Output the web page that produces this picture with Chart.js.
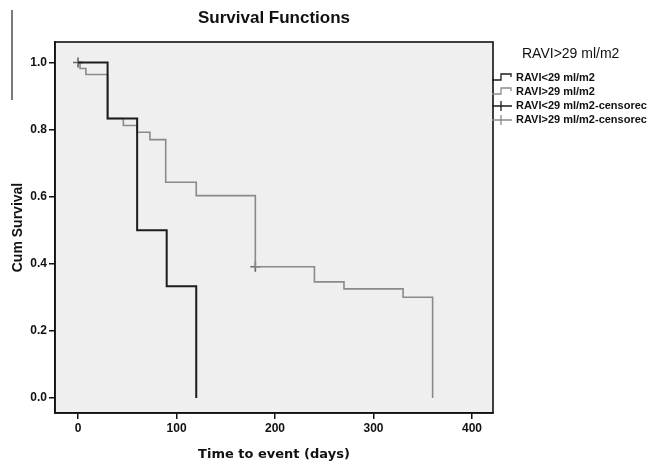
<!DOCTYPE html>
<html>
<head>
<meta charset="utf-8">
<script src="https://cdn.jsdelivr.net/npm/chart.js@4"></script>
<style>
  body { margin: 0; background: #fff; }
</style>
</head>
<body>
<canvas id="survival" width="650" height="461"></canvas>
<script>
// Kaplan-Meier steps
const timesLow = [0, 30, 60, 90, 120];
const survLow = [1.0, 0.833, 0.5, 0.333, 0];

const timesHigh = [0, 2, 8, 30, 46, 60, 73, 89, 120, 180, 240, 270, 330, 360];
const survHigh = [1.0, 0.982, 0.964, 0.833, 0.812, 0.792, 0.770, 0.643, 0.603, 0.391, 0.346, 0.325, 0.300, 0];

const censorHighTimes = [0, 180];
const censorHighSurv = [1.0, 0.391];

const xTicks = [0, 100, 200, 300, 400];
const yTicks = [0.0, 0.2, 0.4, 0.6, 0.8, 1.0];

const legendTitle = 'RAVI>29 ml/m2';
const legendItems = ['RAVI<29 ml/m2', 'RAVI>29 ml/m2', 'RAVI<29 ml/m2-censorec', 'RAVI>29 ml/m2-censorec'];

const BLACK = '#1c1c1c';
const GREY = '#8a8a8a';

function toPoints(xs, ys) {
  return xs.map((x, i) => ({ x: x, y: ys[i] }));
}

const framePlugin = {
  id: 'frame',
  beforeDraw(chart) {
    const { ctx, chartArea: a } = chart;
    ctx.save();
    ctx.fillStyle = '#efefef';
    ctx.fillRect(a.left, a.top, a.right - a.left, a.bottom - a.top);
    // scan edge line at the far left
    ctx.strokeStyle = '#222';
    ctx.lineWidth = 1.2;
    ctx.beginPath();
    ctx.moveTo(12, 10);
    ctx.lineTo(12, 100);
    ctx.stroke();
    ctx.restore();
  },
  afterDraw(chart) {
    const { ctx, chartArea: a } = chart;
    ctx.save();
    ctx.strokeStyle = '#111';
    ctx.lineWidth = 1.6;
    ctx.strokeRect(a.left, a.top, a.right - a.left, a.bottom - a.top);

    // legend on the right
    ctx.fillStyle = '#111';
    ctx.textBaseline = 'middle';
    ctx.font = '14px "Liberation Sans", Arial, sans-serif';
    ctx.fillText(legendTitle, 522, 54);
    ctx.font = 'bold 11px "Liberation Sans", Arial, sans-serif';
    const ys = [78, 92, 106, 120];
    legendItems.forEach((txt, i) => {
      const y = ys[i];
      const col = (i % 2 === 0) ? BLACK : GREY;
      ctx.strokeStyle = col;
      ctx.lineWidth = 1.3;
      ctx.beginPath();
      if (i < 2) {
        ctx.moveTo(492, y + 2);
        ctx.lineTo(501, y + 2);
        ctx.lineTo(501, y - 4);
        ctx.lineTo(511, y - 4);
        ctx.lineTo(511, y - 1);
      } else {
        ctx.moveTo(492, y);
        ctx.lineTo(512, y);
        ctx.moveTo(501, y - 5);
        ctx.lineTo(501, y + 5);
      }
      ctx.stroke();
      ctx.fillStyle = '#111';
      ctx.fillText(txt, 516, y);
    });
    ctx.restore();
  }
};

const tickFont = { family: '"Liberation Sans", Arial, sans-serif', size: 12, weight: 'bold' };

new Chart(document.getElementById('survival'), {
  type: 'line',
  data: {
    datasets: [{
      label: legendItems[0],
      data: toPoints(timesLow, survLow),
      borderColor: BLACK,
      borderWidth: 2,
      stepped: 'before',
      pointRadius: 0,
      fill: false
    }, {
      label: legendItems[1],
      data: toPoints(timesHigh, survHigh),
      borderColor: GREY,
      borderWidth: 1.6,
      stepped: 'before',
      pointRadius: 0,
      fill: false
    }, {
      label: legendItems[3],
      data: toPoints(censorHighTimes, censorHighSurv),
      showLine: false,
      pointStyle: 'cross',
      pointRadius: 5,
      borderColor: '#666',
      borderWidth: 1.6
    }]
  },
  options: {
    responsive: false,
    animation: false,
    devicePixelRatio: 1,
    layout: { padding: { left: 0, right: 157, top: 0, bottom: 0 } },
    plugins: {
      legend: { display: false },
      tooltip: { enabled: false },
      title: {
        display: true,
        fullSize: false,
        text: 'Survival Functions',
        color: '#111',
        font: { family: '"Liberation Sans", Arial, sans-serif', size: 17, weight: 'bold' },
        padding: { top: 8, bottom: 13.6 }
      }
    },
    scales: {
      x: {
        type: 'linear',
        min: -23.4,
        max: 421.3,
        afterFit(scale) { scale.height = 48; },
        afterBuildTicks(scale) { scale.ticks = xTicks.map(v => ({ value: v })); },
        ticks: { color: '#111', font: tickFont, padding: 2, maxRotation: 0,
                 callback: v => String(v) },
        grid: { drawOnChartArea: false, drawTicks: true, tickLength: 6, color: '#111', lineWidth: 1.5 },
        border: { display: true, color: '#111', width: 1.6 },
        title: {
          display: true,
          text: 'Time to event (days)',
          color: '#111',
          font: { family: '"DejaVu Sans", Verdana, sans-serif', size: 13, weight: 'bold', lineHeight: 1 },
          padding: { top: 0, bottom: 0 }
        }
      },
      y: {
        type: 'linear',
        min: -0.045,
        max: 1.061,
        afterFit(scale) { scale.width = 55; },
        afterBuildTicks(scale) { scale.ticks = yTicks.map(v => ({ value: v })); },
        ticks: { color: '#111', font: tickFont, padding: 2,
                 callback: v => v.toFixed(1) },
        grid: { drawOnChartArea: false, drawTicks: true, tickLength: 6, color: '#111', lineWidth: 1.5 },
        border: { display: true, color: '#111', width: 1.6 },
        title: {
          display: true,
          text: 'Cum Survival',
          color: '#111',
          font: { family: '"Liberation Sans", Arial, sans-serif', size: 14, weight: 'bold', lineHeight: 1.2 },
          padding: { top: 10, bottom: 0 }
        }
      }
    }
  },
  plugins: [framePlugin]
});
</script>
</body>
</html>
